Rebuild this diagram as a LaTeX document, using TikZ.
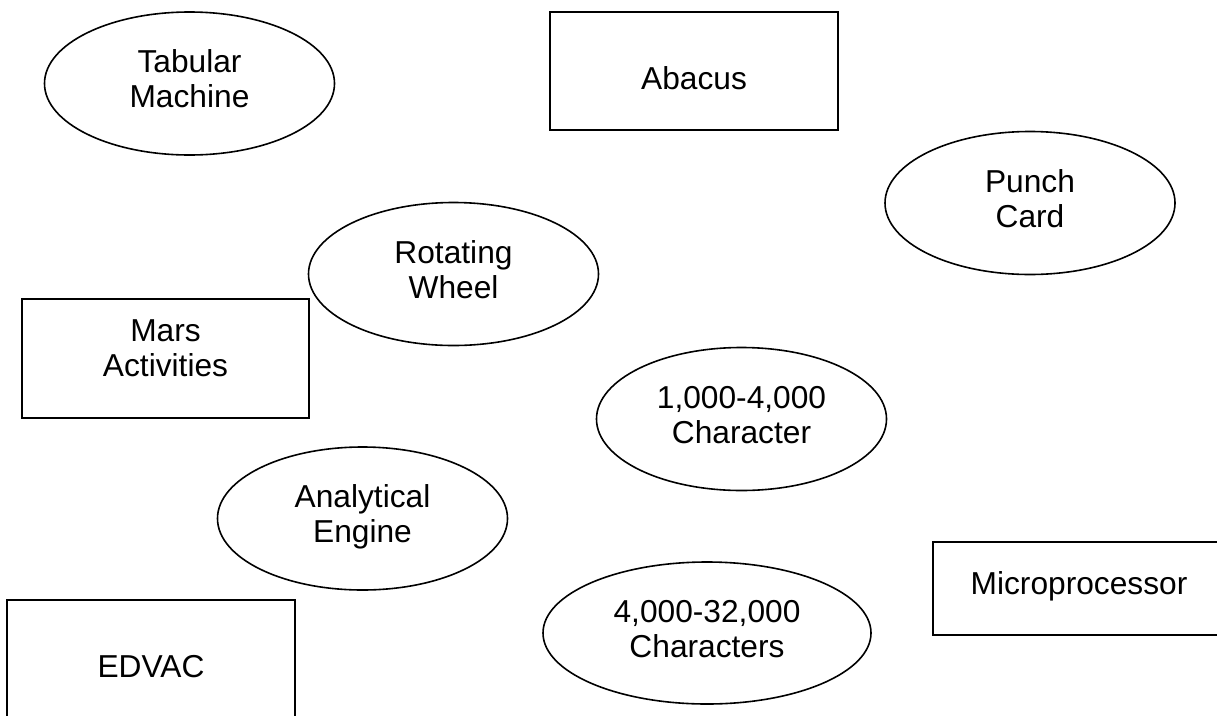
\documentclass[tikz,border=0pt]{standalone}
\usepackage{fontspec}
\setmainfont{Liberation Sans}
\usetikzlibrary{shapes.geometric}

\tikzset{
  base/.style={draw=black, line width=1.6pt, inner sep=0pt, align=center,
               font=\fontsize{31.7}{35}\selectfont},
  % two-line labels: box baseline sits on the last line
  oval/.style={base, ellipse, minimum width=290pt, minimum height=143pt,
               text height=58pt, text depth=10pt},
  box/.style={base, rectangle}
}

\begin{document}
\begin{tikzpicture}[x=1pt, y=-1pt]
  \useasboundingbox (0,0) rectangle (1217,715);
  \clip (0,0) rectangle (1217,715);

  % ovals
  \node[oval] (tab)    at (189.5,83.5) {Tabular\\Machine};
  \node[oval] (punch)  at (1030,203)   {Punch\\Card};
  \node[oval] (wheel)  at (453.5,274)  {Rotating\\Wheel};
  \node[oval] (char1)  at (741.5,419)  {1,000-4,000\\Character};
  \node[oval] (engine) at (362.5,518.5){Analytical\\Engine};
  \node[oval, minimum width=328pt, minimum height=142pt] (char2) at (707,633) {4,000-32,000\\Characters};

  % boxes
  \node[box, minimum width=288pt, minimum height=118pt, text height=36.7pt, text depth=0pt]
    (abacus) at (694,71) {Abacus};
  \node[box, minimum width=287pt, minimum height=119pt, text height=58pt, text depth=22pt]
    (mars) at (165.5,358.5) {Mars\\Activities};
  \node[box, minimum width=292pt, minimum height=93pt, text height=23pt, text depth=12pt]
    (micro) at (1079,588.5) {Microprocessor};
  \node[box, minimum width=288pt, minimum height=132pt, text height=23pt, text depth=0pt]
    (edvac) at (151,666) {EDVAC};
\end{tikzpicture}
\end{document}
